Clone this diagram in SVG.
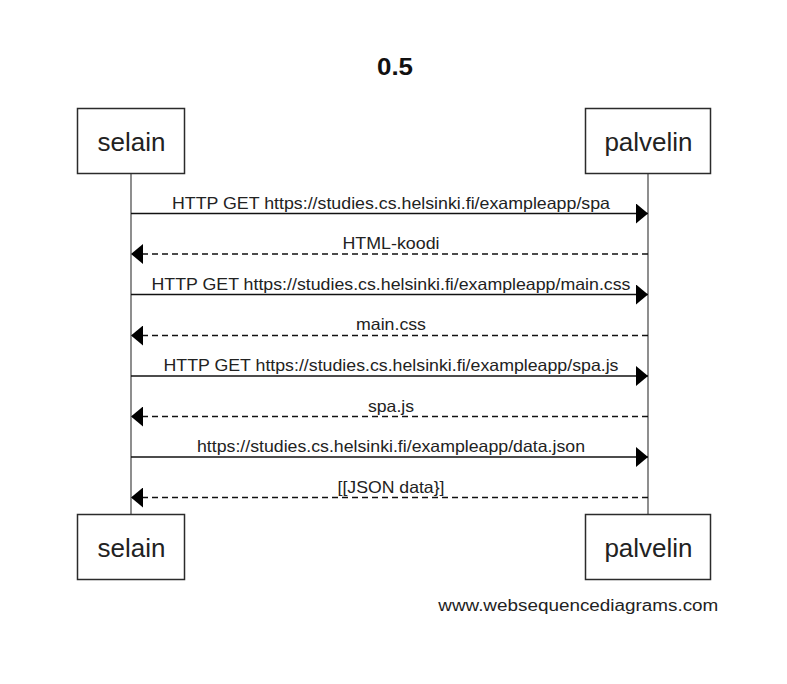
<svg xmlns="http://www.w3.org/2000/svg" width="787" height="684" viewBox="0 0 787 684">
  <style>
    .box { fill: #ffffff; stroke: #2b2b2b; stroke-width: 1.5; }
    .actor { font-family: "Liberation Sans", Arial, sans-serif; font-size: 26px; fill: #222222; text-anchor: middle; }
    .life { stroke: #444444; stroke-width: 1.2; fill: none; }
    .msg { stroke: #111111; stroke-width: 1.3; fill: none; }
    .dash { stroke-dasharray: 6 4; }
    .lbl { font-family: "Liberation Sans", Arial, sans-serif; font-size: 16.5px; fill: #222222; text-anchor: middle; }
    .title { font-family: "Liberation Sans", Arial, sans-serif; font-size: 24px; font-weight: bold; fill: #111111; text-anchor: middle; }
    .foot { font-family: "Liberation Sans", Arial, sans-serif; font-size: 16px; fill: #222222; }
  </style>
  <defs>
    <marker id="head" viewBox="0 0 12 20" refX="12" refY="10" markerWidth="12" markerHeight="20" markerUnits="userSpaceOnUse" orient="auto">
      <path d="M0,0 L12,10 L0,20 Z" fill="#000000" stroke="none"/>
    </marker>
  </defs>
  <rect width="787" height="684" fill="#ffffff"/>
  <text class="title" x="395" y="75" textLength="36" lengthAdjust="spacingAndGlyphs">0.5</text>

  <g id="lifelines">
    <line class="life" x1="131" y1="173.5" x2="131" y2="514.5"/>
    <line class="life" x1="648" y1="173.5" x2="648" y2="514.5"/>
  </g>

  <g id="selain">
    <rect class="box" x="77.5" y="108.5" width="107" height="65"/>
    <text class="actor" x="131.5" y="151">selain</text>
  </g>
  <g id="palvelin">
    <rect class="box" x="585.5" y="108.5" width="125" height="65"/>
    <text class="actor" x="648.5" y="151">palvelin</text>
  </g>
  <g id="selain-bottom">
    <rect class="box" x="77.5" y="514.5" width="107" height="65"/>
    <text class="actor" x="131.5" y="557">selain</text>
  </g>
  <g id="palvelin-bottom">
    <rect class="box" x="585.5" y="514.5" width="125" height="65"/>
    <text class="actor" x="648.5" y="557">palvelin</text>
  </g>

  <g id="connectors">
    <line class="msg" x1="131" y1="213.5" x2="648" y2="213.5" marker-end="url(#head)"/>
    <line class="msg dash" x1="648" y1="254" x2="131" y2="254" marker-end="url(#head)"/>
    <line class="msg" x1="131" y1="294.5" x2="648" y2="294.5" marker-end="url(#head)"/>
    <line class="msg dash" x1="648" y1="335.5" x2="131" y2="335.5" marker-end="url(#head)"/>
    <line class="msg" x1="131" y1="376" x2="648" y2="376" marker-end="url(#head)"/>
    <line class="msg dash" x1="648" y1="416.5" x2="131" y2="416.5" marker-end="url(#head)"/>
    <line class="msg" x1="131" y1="457" x2="648" y2="457" marker-end="url(#head)"/>
    <line class="msg dash" x1="648" y1="497.5" x2="131" y2="497.5" marker-end="url(#head)"/>

    <text class="lbl" x="391" y="209" textLength="438" lengthAdjust="spacingAndGlyphs">HTTP GET https://studies.cs.helsinki.fi/exampleapp/spa</text>
    <text class="lbl" x="391" y="248.5" textLength="97" lengthAdjust="spacingAndGlyphs">HTML-koodi</text>
    <text class="lbl" x="391" y="290" textLength="479" lengthAdjust="spacingAndGlyphs">HTTP GET https://studies.cs.helsinki.fi/exampleapp/main.css</text>
    <text class="lbl" x="391" y="330" textLength="70" lengthAdjust="spacingAndGlyphs">main.css</text>
    <text class="lbl" x="391" y="370.5" textLength="455" lengthAdjust="spacingAndGlyphs">HTTP GET https://studies.cs.helsinki.fi/exampleapp/spa.js</text>
    <text class="lbl" x="391" y="411.5" textLength="46" lengthAdjust="spacingAndGlyphs">spa.js</text>
    <text class="lbl" x="391" y="452" textLength="388" lengthAdjust="spacingAndGlyphs">https://studies.cs.helsinki.fi/exampleapp/data.json</text>
    <text class="lbl" x="391" y="492.5" textLength="107" lengthAdjust="spacingAndGlyphs">[[JSON data}]</text>
  </g>

  <text class="foot" x="438.3" y="610.5" textLength="280" lengthAdjust="spacingAndGlyphs">www.websequencediagrams.com</text>
</svg>
